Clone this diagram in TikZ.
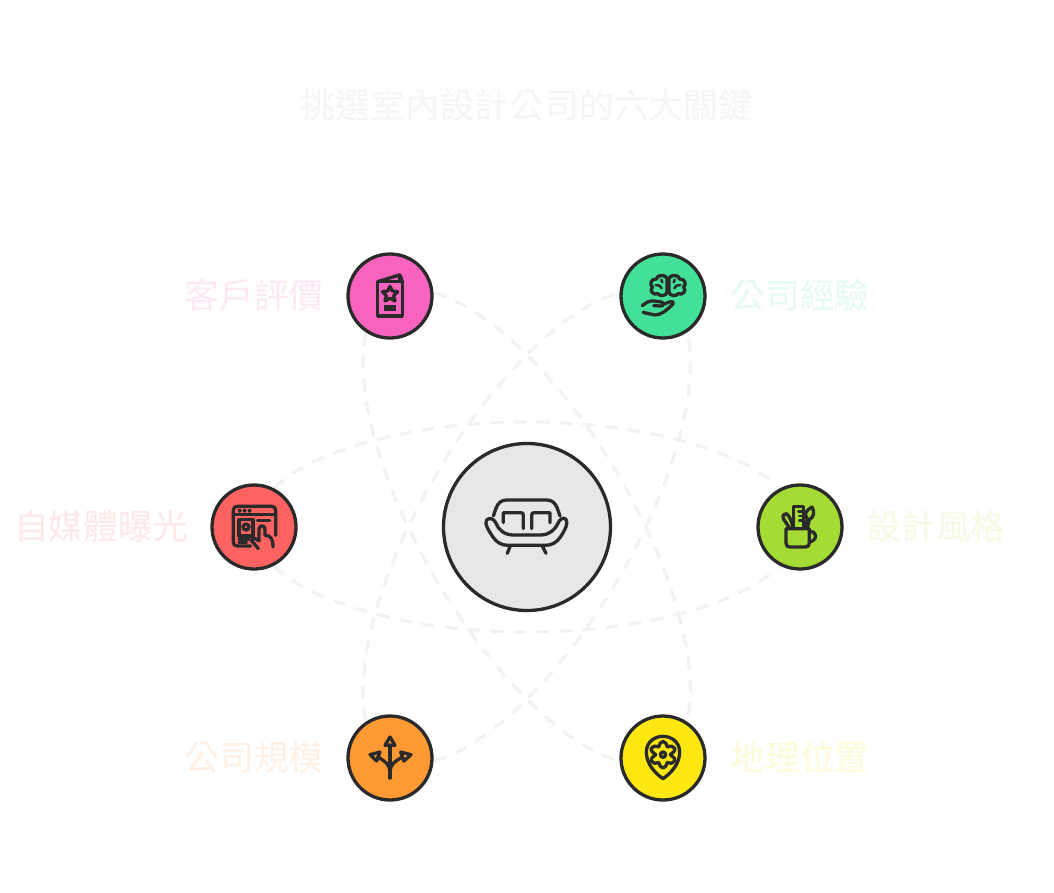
\documentclass[tikz,border=0pt]{standalone}
\usepackage{fontspec}
\setmainfont{Noto Sans CJK TC}
\usetikzlibrary{backgrounds}
\definecolor{ink}{HTML}{2A2A2A}
\definecolor{flowc}{HTML}{F2F2F2}
\tikzset{
  disc/.style={circle,draw=ink,line width=3.3pt,inner sep=0pt,minimum size=84pt,outer sep=0pt},
  hub/.style={disc,minimum size=167pt,fill=black!9.5},
  flow/.style={draw=flowc,line width=3.2pt,dash pattern=on 11pt off 12pt,line cap=round},
  lab/.style={font=\fontsize{34.8pt}{37pt}\selectfont,inner sep=0pt,anchor=center},
  ico/.style={draw=ink,line width=3.3pt,line cap=round,line join=round},
  icofine/.style={ico,line width=2.5pt}
}
\newcommand{\petal}[3]{%
  \begin{scope}[shift={(527,527)},rotate=#1]
    \draw[flow] (#2.center) .. controls +(0,-58) and +(-148,0) .. (0,-105) .. controls +(148,0) and +(0,-58) .. (#3.center);
    \draw[flow] (#2.center) .. controls +(0,58) and +(-148,0) .. (0,105) .. controls +(148,0) and +(0,58) .. (#3.center);
  \end{scope}}
\begin{document}
\begin{tikzpicture}[x=1pt,y=-1pt]
\useasboundingbox (0,0) rectangle (1054,892);
\node[hub] (hubn) at (527,527) {};
\node[disc,fill={rgb,255:red,247;green,99;blue,191}] (pink) at (390,296) {};
\node[disc,fill={rgb,255:red,67;green,224;blue,151}] (mint) at (663,296) {};
\node[disc,fill={rgb,255:red,255;green,99;blue,97}] (coral) at (254,527) {};
\node[disc,fill={rgb,255:red,165;green,219;blue,53}] (lime) at (800,527) {};
\node[disc,fill={rgb,255:red,255;green,153;blue,51}] (orange) at (390,758) {};
\node[disc,fill={rgb,255:red,255;green,231;blue,17}] (yellow) at (663,758) {};
\begin{pgfonlayer}{background}
  \fill[white] (0,0) rectangle (1054,892);
  \petal{0}{coral}{lime}
  \petal{59.5}{orange}{mint}
  \petal{-59.5}{pink}{yellow}
\end{pgfonlayer}
\node[lab,text={rgb,255:red,245;green,245;blue,245}] (title) at (527,105) {挑選室內設計公司的六大關鍵};
\node[lab,text={rgb,255:red,254;green,232;blue,245}] (tpink) at (254,295) {客戶評價};
\node[lab,text={rgb,255:red,229;green,251;blue,241}] (tmint) at (800,295) {公司經驗};
\node[lab,text={rgb,255:red,255;green,232;blue,232}] (tcoral) at (101,526) {自媒體曝光};
\node[lab,text={rgb,255:red,244;green,251;blue,229}] (tlime) at (936,526) {設計風格};
\node[lab,text={rgb,255:red,255;green,240;blue,227}] (torange) at (254,757) {公司規模};
\node[lab,text={rgb,255:red,255;green,250;blue,215}] (tyellow) at (800,757) {地理位置};
% pink: card
\begin{scope}[shift={(340,245)},x=.3333pt,y=-.3333pt]
  \draw[ico] (113,110) rectangle (187,213);
  \draw[ico] (113,110) -- (178,90) -- (180,110);
  \draw[ico] (180,90) -- (187,110);
  \draw[ico] (150,124) -- (157,138) -- (173,140) -- (161,152) -- (165,168) -- (150,160) -- (135,168) -- (139,152) -- (127,140) -- (143,138) -- cycle;
  \fill[ink] (133,181) rectangle (167,199);
\end{scope}
% mint: brain and hand
\begin{scope}[shift={(613,245)},x=.3333pt,y=-.3333pt]
  \draw[ico] (162,100) .. controls (158,88) and (132,88) .. (130,102) .. controls (115,100) and (108,118) .. (118,126) .. controls (108,138) and (122,152) .. (134,146) .. controls (142,156) and (160,152) .. (162,142) -- cycle;
  \draw[ico] (168,100) .. controls (172,88) and (198,88) .. (200,102) .. controls (215,100) and (222,118) .. (212,126) .. controls (222,138) and (208,152) .. (196,146) .. controls (188,156) and (170,152) .. (168,142) -- cycle;
  \draw[icofine] (145,104) -- (148,112) (128,120) -- (140,122) -- (146,130) (185,104) -- (182,112) (202,120) -- (190,122) -- (184,130);
  \draw[ico] (88,182) .. controls (100,172) and (110,166) .. (125,168) -- (145,171) .. controls (155,174) and (152,184) .. (142,183) -- (122,182);
  \draw[ico] (150,178) -- (172,170) .. controls (182,168) and (183,176) .. (176,181) .. controls (160,196) and (145,210) .. (125,210) -- (90,202);
\end{scope}
% coral: browser
\begin{scope}[shift={(204,477)},x=.3333pt,y=-.3333pt]
  \draw[ico] (140,207) -- (100,207) .. controls (92,207) and (88,203) .. (88,195) -- (88,100) .. controls (88,92) and (92,88) .. (100,88) -- (203,88) .. controls (211,88) and (215,92) .. (215,100) -- (215,175);
  \draw[ico] (88,112) -- (215,112);
  \fill[ink] (107,101) circle (6) (122,101) circle (6) (137,101) circle (6);
  \draw[ico] (105,128) rectangle (147,177);
  \draw[ico] (126,150) circle (9);
  \draw[ico] (105,187) -- (135,187) (105,197) -- (128,197);
  \draw[ico] (160,130) -- (197,130);
  \draw[ico] (163,215) -- (142,190) .. controls (146,182) and (152,182) .. (165,192) -- (165,157) .. controls (165,143) and (183,143) .. (183,157) -- (183,175) .. controls (200,175) and (207,185) .. (207,210);
\end{scope}
% lime: cup with tools
\begin{scope}[shift={(750,477)},x=.3333pt,y=-.3333pt]
  \draw[ico] (108,155) -- (178,155) -- (178,198) .. controls (178,206) and (174,210) .. (166,210) -- (120,210) .. controls (112,210) and (108,206) .. (108,198) -- cycle;
  \draw[ico] (178,165) .. controls (200,158) and (206,190) .. (178,195);
  \draw[ico] (130,150) -- (130,88) -- (160,88) -- (160,150);
  \draw[icofine] (145,103) -- (160,103) (148,117) -- (160,117) (148,131) -- (160,131);
  \draw[ico] (118,152) -- (100,125) .. controls (96,115) and (104,108) .. (110,110) .. controls (120,120) and (126,135) .. (128,148);
  \draw[ico] (167,152) -- (172,125) (172,125) .. controls (160,112) and (168,100) .. (186,90) .. controls (196,105) and (190,122) .. (178,128) -- (172,152);
\end{scope}
% orange: arrows
\begin{scope}[shift={(340,707)},x=.3333pt,y=-.3333pt]
  \draw[ico,line width=3.6pt] (150,213) -- (150,115);
  \draw[ico] (150,90) -- (135,115) -- (165,115) -- cycle;
  \draw[ico] (150,192) .. controls (148,172) and (135,162) .. (113,150);
  \draw[ico] (150,192) .. controls (152,172) and (165,162) .. (188,150);
  \draw[ico] (90,143) -- (120,135) -- (110,162) -- cycle;
  \draw[ico] (213,143) -- (182,135) -- (192,162) -- cycle;
\end{scope}
% yellow: pin with gear
\begin{scope}[shift={(613,707)},x=.3333pt,y=-.3333pt]
  \draw[ico] (150,215) .. controls (125,198) and (100,170) .. (100,135) .. controls (100,105) and (125,88) .. (150,88) .. controls (175,88) and (200,105) .. (200,135) .. controls (200,170) and (175,198) .. (150,215) -- cycle;
  \draw[ico] (150,103) .. controls (158,103) and (160,112) .. (163,120) .. controls (172,116) and (182,116) .. (185,124) .. controls (188,132) and (178,138) .. (172,143) .. controls (178,148) and (188,154) .. (185,162) .. controls (182,170) and (172,170) .. (163,166) .. controls (160,174) and (158,183) .. (150,183) .. controls (142,183) and (140,174) .. (137,166) .. controls (128,170) and (118,170) .. (115,162) .. controls (112,154) and (122,148) .. (128,143) .. controls (122,138) and (112,132) .. (115,124) .. controls (118,116) and (128,116) .. (137,120) .. controls (140,112) and (142,103) .. (150,103) -- cycle;
  \draw[ico] (150,143) circle (8);
\end{scope}
% hub: sofa
\begin{scope}[shift={(470,480)},x=.3333pt,y=-.3333pt]
  \draw[ico] (70,108) -- (78,85) .. controls (84,68) and (95,60) .. (110,60) -- (230,60) .. controls (245,60) and (256,68) .. (262,85) -- (270,108);
  \draw[ico] (100,128) -- (100,98) -- (152,98) .. controls (158,98) and (160,100) .. (160,106) -- (160,146);
  \draw[ico] (185,146) -- (185,106) .. controls (185,100) and (187,98) .. (193,98) -- (240,98) -- (240,128);
  \draw[ico] (78,130) .. controls (85,150) and (105,165) .. (130,165) -- (212,165) .. controls (237,165) and (255,150) .. (264,130) .. controls (268,118) and (280,110) .. (288,118) .. controls (296,128) and (285,150) .. (272,170) .. controls (260,188) and (245,196) .. (225,196) -- (115,196) .. controls (95,196) and (80,188) .. (68,170) .. controls (55,150) and (42,130) .. (50,120) .. controls (58,110) and (74,118) .. (78,130) -- cycle;
  \draw[ico] (120,200) -- (112,220);
  \draw[ico] (218,200) -- (228,220);
\end{scope}
\end{tikzpicture}
\end{document}
